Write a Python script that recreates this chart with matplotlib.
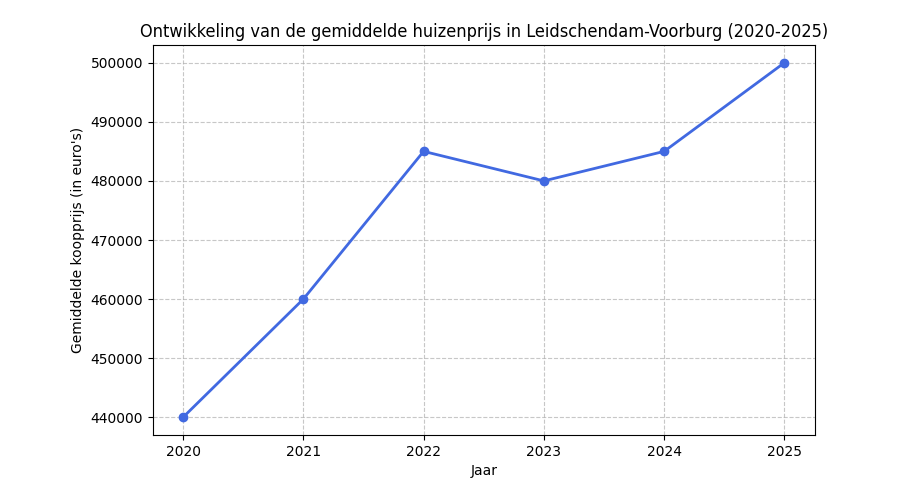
import matplotlib
matplotlib.use("Agg")
import matplotlib.pyplot as plt

years = [2020, 2021, 2022, 2023, 2024, 2025]
prices = [440000, 460000, 485000, 480000, 485000, 500000]

fig, ax = plt.subplots(figsize=(9, 5), dpi=100)
ax.plot(years, prices, marker='o', color='royalblue', linewidth=2, markersize=6)
ax.set_title('Ontwikkeling van de gemiddelde huizenprijs in Leidschendam-Voorburg (2020-2025)',
             fontsize=13, fontstretch='condensed', family='DejaVu Sans')
ax.set_xlabel('Jaar')
ax.set_ylabel("Gemiddelde koopprijs (in euro's)")
ax.set_xticks(years)
ax.grid(True, linestyle='--', alpha=0.7)
fig.subplots_adjust(left=0.17, right=0.905, top=0.91, bottom=0.13)
fig.savefig('out.png')
